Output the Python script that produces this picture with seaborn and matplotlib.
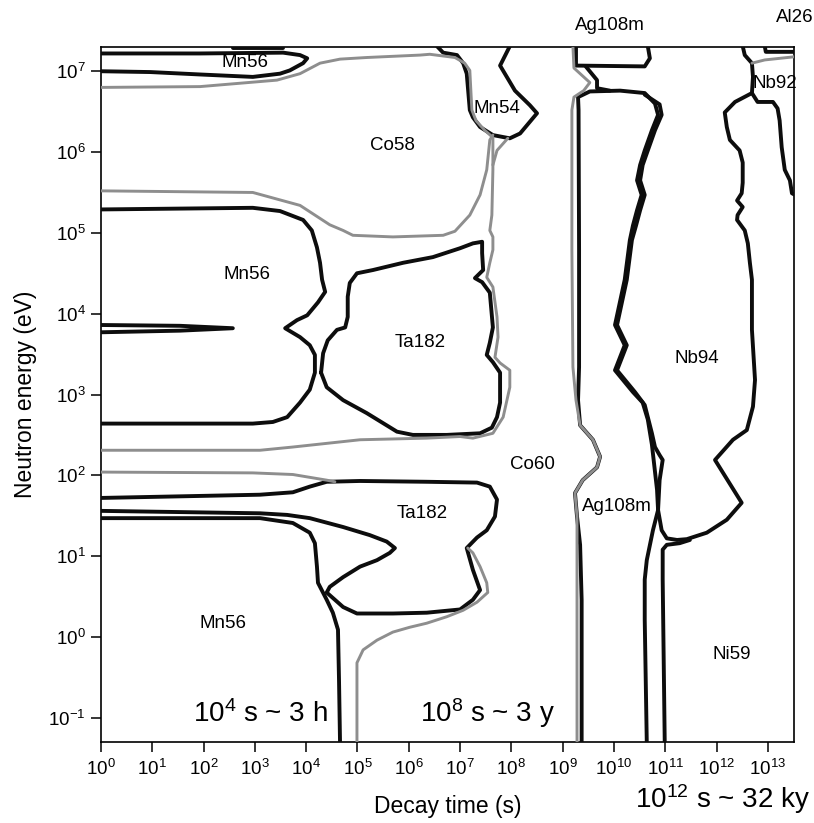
import numpy as np
import matplotlib
matplotlib.use("Agg")
import matplotlib.pyplot as plt
import seaborn as sns
from matplotlib.ticker import FixedLocator, NullLocator, LogFormatterSciNotation

# ---- boundary curves: (log10 decay time [s], log10 neutron energy [eV]) ----
MN56_LOOP = [(0, 7.22), (1.93, 7.22), (3.55, 7.23), (3.88, 7.20), (4.02, 7.16), (3.94, 7.10),
             (3.68, 7.01), (3.49, 6.97), (2.96, 6.93), (1.93, 6.96), (0.96, 6.99), (0, 7.00)]
TOP_EDGE = [(2.57, 7.29), (3.55, 7.29)]
CO58_MN54 = [(6.55, 7.31), (6.67, 7.23), (6.94, 7.20), (7.06, 7.10), (7.13, 6.97), (7.19, 6.52),
             (7.25, 6.43), (7.39, 6.31), (7.64, 6.21), (7.97, 6.17), (8.17, 6.23), (8.50, 6.48),
             (8.36, 6.58), (8.07, 6.76), (7.78, 7.07), (7.97, 7.31)]
MN56_MID = [(0, 5.29), (2.96, 5.31), (3.49, 5.27), (3.94, 5.16), (4.11, 5.03), (4.21, 4.82),
            (4.27, 4.63), (4.31, 4.42), (4.37, 4.27), (4.23, 4.14), (4.02, 3.98), (3.82, 3.92),
            (3.59, 3.82), (3.88, 3.71), (4.07, 3.61), (4.17, 3.49), (4.17, 3.27), (4.07, 3.06),
            (3.88, 2.90), (3.63, 2.72), (3.35, 2.66), (2.96, 2.64), (0, 2.64)]
SPIKE = [(0, 3.86), (1.54, 3.85), (2.57, 3.82), (1.54, 3.79), (0, 3.77)]
TA182_UP = [(4.29, 3.27), (4.40, 3.09), (4.72, 2.93), (5.18, 2.77), (5.77, 2.54), (6.08, 2.50),
            (6.74, 2.50), (7.39, 2.52), (7.62, 2.59), (7.72, 2.72), (7.78, 2.90), (7.78, 3.27),
            (7.64, 3.40), (7.52, 3.49), (7.58, 3.64), (7.64, 3.83), (7.58, 4.26), (7.43, 4.39),
            (7.29, 4.44), (7.45, 4.54), (7.43, 4.75), (7.43, 4.89), (7.25, 4.87), (7.00, 4.81),
            (6.47, 4.70), (5.89, 4.63), (5.30, 4.54), (4.99, 4.50), (4.85, 4.38), (4.81, 4.21),
            (4.81, 3.96), (4.76, 3.83), (4.60, 3.80), (4.42, 3.67), (4.33, 3.51), (4.29, 3.27)]
TA182_LOW = [(0, 1.72), (3.10, 1.76), (3.74, 1.79), (4.07, 1.86), (4.40, 1.92), (5.05, 1.93),
             (6.35, 1.92), (7.33, 1.91), (7.58, 1.86), (7.72, 1.70), (7.68, 1.49), (7.52, 1.32),
             (7.33, 1.23), (7.13, 1.10), (7.25, 0.83), (7.39, 0.58), (7.25, 0.46), (7.00, 0.34),
             (6.35, 0.30), (5.69, 0.29), (4.99, 0.29), (4.72, 0.37), (4.40, 0.55), (4.46, 0.62),
             (4.72, 0.74), (5.05, 0.87), (5.38, 0.95), (5.63, 1.04), (5.73, 1.10), (5.57, 1.18),
             (5.24, 1.26), (4.72, 1.36), (4.07, 1.47), (3.63, 1.51), (3.10, 1.53), (0, 1.56)]
MN56_LOW = [(0, 1.47), (3.10, 1.47), (3.74, 1.41), (4.07, 1.29), (4.17, 1.16), (4.21, 0.87),
            (4.23, 0.67), (4.40, 0.46), (4.52, 0.30), (4.62, 0.09), (4.64, -0.53), (4.66, -1.31)]
AG_BLACK = [(9.37, -1.31), (9.37, 0.46), (9.34, 1.14), (9.28, 1.49), (9.24, 1.78), (9.39, 1.94),
            (9.67, 2.10), (9.73, 2.23), (9.59, 2.44), (9.34, 2.62), (9.30, 2.93), (9.32, 3.34),
            (9.32, 4.79), (9.31, 6.52), (9.30, 6.68), (9.53, 6.75), (10.12, 6.76), (10.60, 6.73),
            (10.80, 6.60), (10.86, 6.46), (10.74, 6.27), (10.60, 6.02), (10.51, 5.84), (10.45, 5.65),
            (10.54, 5.47), (10.45, 5.28), (10.37, 5.09), (10.31, 4.91), (10.21, 4.42), (10.02, 3.86),
            (10.21, 3.61), (10.02, 3.30), (10.37, 3.03), (10.56, 2.90), (10.66, 2.69), (10.74, 2.38),
            (10.84, 1.82), (10.86, 1.57), (10.76, 1.32), (10.64, 0.95), (10.60, 0.71), (10.60, 0.21),
            (10.64, -1.31)]
AG_BOX = [(9.26, 7.31), (9.26, 7.07), (10.60, 7.06), (10.70, 7.16), (10.66, 7.31)]
AG_X = [(9.45, 7.06), (9.67, 6.89), (9.67, 6.79), (9.92, 6.76)]
NB94 = [(10.60, 6.71), (10.89, 6.59), (10.93, 6.46), (10.80, 6.27), (10.66, 6.02), (10.56, 5.84),
        (10.51, 5.65), (10.60, 5.47), (10.51, 5.28), (10.43, 5.09), (10.35, 4.91), (10.25, 4.42),
        (10.06, 3.86), (10.25, 3.61), (10.06, 3.30), (10.41, 3.03), (10.60, 2.87), (10.74, 2.52),
        (10.80, 2.35), (10.89, 2.25), (10.95, 2.19), (10.89, 1.94), (10.86, 1.57), (10.93, 1.32),
        (11.03, 1.22), (11.23, 1.20), (11.42, 1.21), (11.81, 1.29), (12.20, 1.45), (12.49, 1.66),
        (11.97, 2.19), (12.32, 2.44), (12.59, 2.56), (12.71, 2.85), (12.75, 3.18), (12.69, 3.80),
        (12.69, 4.42), (12.65, 4.63), (12.61, 4.87), (12.55, 5.03), (12.40, 5.16), (12.41, 5.22),
        (12.51, 5.32), (12.40, 5.40), (12.49, 5.49), (12.51, 5.62), (12.51, 5.87), (12.45, 6.02),
        (12.26, 6.15), (12.20, 6.31), (12.16, 6.49), (12.36, 6.62), (12.69, 6.73), (12.71, 6.93),
        (12.69, 7.10), (12.55, 7.20), (12.51, 7.31)]
NI59 = [(10.99, -1.31), (10.95, 0.71), (10.95, 1.08), (11.03, 1.14), (11.28, 1.16), (11.48, 1.20)]
NB92 = [(12.69, 6.73), (12.80, 6.62), (13.10, 6.62), (13.19, 6.54), (13.23, 6.39), (13.27, 6.06),
        (13.33, 5.78), (13.43, 5.65), (13.47, 5.49), (13.53, 5.47)]
AL26_BOX = [(12.94, 7.31), (12.96, 7.24), (13.53, 7.24)]

GRAY_CO58_TA182 = [(0, 6.80), (1.93, 6.81), (3.43, 6.89), (3.88, 6.97), (4.27, 7.10), (4.66, 7.15),
                   (5.18, 7.17), (6.22, 7.20), (6.41, 7.21), (6.90, 7.17), (7.09, 7.10), (7.19, 7.01),
                   (7.23, 6.52), (7.31, 6.39), (7.48, 6.27), (7.64, 6.18), (7.64, 5.78), (7.62, 5.22),
                   (7.58, 5.03), (7.64, 4.95), (7.64, 4.79), (7.58, 4.63), (7.52, 4.45), (7.64, 4.33),
                   (7.72, 3.96), (7.74, 3.71), (7.68, 3.46), (7.78, 3.39), (7.97, 3.30), (7.97, 3.09),
                   (7.84, 2.72), (7.64, 2.52), (7.25, 2.46), (7.00, 2.48), (6.35, 2.46), (5.05, 2.44),
                   (3.74, 2.35), (3.10, 2.31), (0, 2.31)]
GRAY_MN54_X = [(7.93, 6.17), (7.72, 6.02), (7.64, 5.84)]
GRAY_CO58_LOW = [(0, 5.52), (2.96, 5.50), (3.88, 5.34), (4.46, 5.10), (4.72, 5.03), (4.91, 4.97),
                 (5.69, 4.95), (6.67, 4.97), (6.90, 5.02), (7.19, 5.22), (7.39, 5.47), (7.52, 5.78),
                 (7.58, 6.15), (7.64, 6.21)]
GRAY_TA182_MID = [(0, 2.04), (2.96, 2.03), (3.74, 2.01), (4.40, 1.94), (4.56, 1.92)]
GRAY_CO60_LOW = [(4.99, -1.31), (4.99, -0.32), (5.11, -0.16), (5.38, -0.04), (5.69, 0.06),
                 (6.02, 0.12), (6.35, 0.17), (6.74, 0.25), (7.06, 0.33), (7.33, 0.43), (7.54, 0.55),
                 (7.52, 0.67), (7.39, 0.87), (7.25, 1.04), (7.15, 1.10)]
AG_GRAY = [(9.20, 7.31), (9.22, 7.04), (9.53, 6.86), (9.41, 6.76), (9.22, 6.68), (9.18, 6.52),
           (9.18, 4.79), (9.20, 3.34), (9.26, 2.93), (9.34, 2.62), (9.59, 2.44), (9.73, 2.23),
           (9.67, 2.10), (9.39, 1.94), (9.24, 1.78), (9.28, 1.49), (9.28, -1.31)]
NB92_GRAY = [(12.69, 7.10), (12.94, 7.14), (13.53, 7.18)]

# ---- region labels: (text, log10 t, log10 E) ----
REGION_LABELS = ["Mn56", "Co58", "Mn54", "Mn56", "Ta182", "Co60", "Ta182", "Ag108m",
                 "Nb94", "Nb92", "Mn56", "Ni59"]
REGION_LOGT = [2.81, 5.69, 7.72, 2.85, 6.22, 8.42, 6.26, 10.06, 11.62, 13.14, 2.38, 12.30]
REGION_LOGE = [7.11, 6.08, 6.54, 4.48, 3.64, 2.13, 1.53, 1.61, 3.45, 6.85, 0.17, -0.22]

X_TICK_EXP = list(range(0, 14))
Y_TICK_EXP = list(range(-1, 8))
X_LIM_LOG = (0.0, 13.51)
Y_LIM_LOG = (-1.30, 7.30)

sns.set_style("ticks")
plt.rcParams["font.family"] = ["Liberation Sans", "DejaVu Sans"]
plt.rcParams["mathtext.fontset"] = "custom"
plt.rcParams["mathtext.rm"] = "Liberation Sans"
plt.rcParams["mathtext.it"] = "Liberation Sans:italic"
plt.rcParams["mathtext.bf"] = "Liberation Sans:bold"
plt.rcParams["text.color"] = "black"
plt.rcParams["axes.labelcolor"] = "black"
plt.rcParams["xtick.color"] = "black"
plt.rcParams["ytick.color"] = "black"

fig = plt.figure(figsize=(8.14, 8.23), dpi=100)
ax = fig.add_axes([101 / 814, 1 - 742 / 823, 693 / 814, 695 / 823])
ax.set_xscale("log")
ax.set_yscale("log")

BLACK = "#0d0d0d"
GRAY = "#8e8e8e"

black_curves = [MN56_LOOP, TOP_EDGE, CO58_MN54, MN56_MID, SPIKE, TA182_UP, TA182_LOW, MN56_LOW,
                AG_BLACK, AG_BOX, AG_X, NB94, NI59, NB92, AL26_BOX]
gray_curves = [GRAY_CO58_TA182, GRAY_MN54_X, GRAY_CO58_LOW, GRAY_TA182_MID, GRAY_CO60_LOW,
               AG_GRAY, NB92_GRAY]

for pts in black_curves:
    a = np.asarray(pts, dtype=float)
    sns.lineplot(x=10 ** a[:, 0], y=10 ** a[:, 1], sort=False, estimator=None, color=BLACK,
                 linewidth=2.8, solid_joinstyle="round", solid_capstyle="round", ax=ax,
                 legend=False, zorder=3)
for pts in gray_curves:
    a = np.asarray(pts, dtype=float)
    sns.lineplot(x=10 ** a[:, 0], y=10 ** a[:, 1], sort=False, estimator=None, color=GRAY,
                 linewidth=2.1, solid_joinstyle="round", solid_capstyle="round", ax=ax,
                 legend=False, zorder=4)

ax.set_xlim(10 ** X_LIM_LOG[0], 10 ** X_LIM_LOG[1])
ax.set_ylim(10 ** Y_LIM_LOG[0], 10 ** Y_LIM_LOG[1])

ax.xaxis.set_major_locator(FixedLocator([10.0 ** e for e in X_TICK_EXP]))
ax.yaxis.set_major_locator(FixedLocator([10.0 ** e for e in Y_TICK_EXP]))
for axis in (ax.xaxis, ax.yaxis):
    axis.set_major_formatter(LogFormatterSciNotation(base=10))
    axis.set_minor_locator(NullLocator())
ax.tick_params(which="major", direction="out", length=7, width=1.1, labelsize=13.5,
               colors="black", top=False, right=False)
ax.tick_params(axis="x", pad=5)
ax.tick_params(axis="y", pad=4)
for s in ax.spines.values():
    s.set_visible(True)
    s.set_linewidth(1.2)
    s.set_color("black")

ax.set_xlabel("Decay time (s)", fontsize=16.5, color="black")
ax.xaxis.set_label_coords(0.5, -0.076)
ax.set_ylabel("Neutron energy (eV)", fontsize=16.5, color="black")
ax.yaxis.set_label_coords(-0.092, 0.5)

for lab, lt, le in zip(REGION_LABELS, REGION_LOGT, REGION_LOGE):
    ax.text(10 ** lt, 10 ** le, lab, fontsize=13.5, ha="center", va="center", zorder=6,
            color="black")

fig.text(610 / 814, 1 - 25 / 823, "Ag108m", fontsize=13.5, ha="center", va="center")
fig.text(795 / 814, 1 - 18 / 823, "Al26", fontsize=13.5, ha="center", va="center")

fig.text(260 / 814, 1 - 722 / 823, r"$\mathregular{10^{4}}$ s ~ 3 h", fontsize=20,
         ha="center", va="baseline")
fig.text(487 / 814, 1 - 722 / 823, r"$\mathregular{10^{8}}$ s ~ 3 y", fontsize=20,
         ha="center", va="baseline")
fig.text(722 / 814, 1 - 808 / 823, r"$\mathregular{10^{12}}$ s ~ 32 ky", fontsize=20,
         ha="center", va="baseline")

fig.savefig("out.png", dpi=100)
